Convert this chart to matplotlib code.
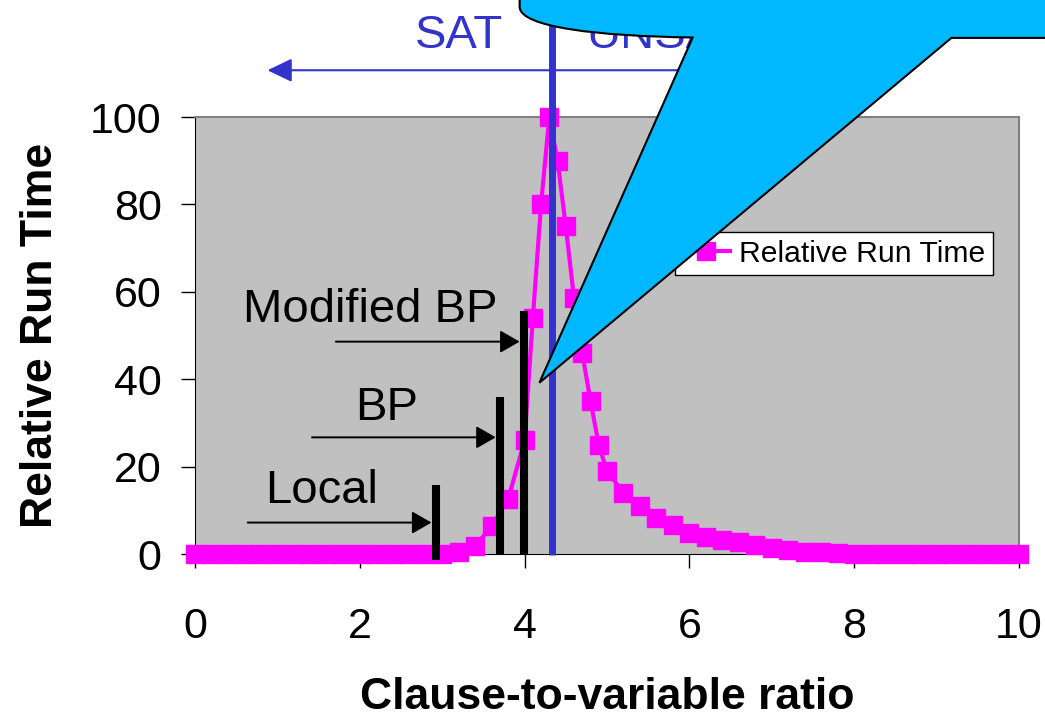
import matplotlib
matplotlib.use("Agg")
import matplotlib.pyplot as plt
from matplotlib.path import Path
from matplotlib.patches import PathPatch

plt.rcParams['font.family'] = ['Liberation Sans', 'DejaVu Sans']

# clause-to-variable ratio (denser sampling around the transition)
ratio = [0.0, 0.2, 0.4, 0.6, 0.8, 1.0, 1.2, 1.4, 1.6, 1.8,
         2.0, 2.2, 2.4, 2.6, 2.8, 3.0, 3.2, 3.4, 3.6, 3.8,
         4.0, 4.1, 4.2, 4.3, 4.4, 4.5, 4.6, 4.7, 4.8, 4.9, 5.0,
         5.2, 5.4, 5.6, 5.8, 6.0, 6.2, 6.4, 6.6, 6.8, 7.0,
         7.2, 7.4, 7.6, 7.8, 8.0, 8.2, 8.4, 8.6, 8.8, 9.0,
         9.2, 9.4, 9.6, 9.8, 10.0]
run_time = [0, 0, 0, 0, 0, 0, 0, 0, 0, 0,
            0, 0, 0, 0, 0, 0.1, 0.4, 1.8, 6.4, 12.5,
            26, 54, 80, 100, 90, 75, 58.5, 46, 35, 25, 19,
            14, 11, 8.2, 6.6, 4.9, 4.0, 3.2, 2.7, 2.1, 1.4,
            0.9, 0.5, 0.4, 0.2, 0, 0, 0, 0, 0, 0,
            0, 0, 0, 0, 0]

# algorithm thresholds: (label, ratio, bar top, bar bottom, arrow start, arrow height)
algos = [
    ('Local', 2.92, 15.8, -1.4, 0.64, 7.2),
    ('BP', 3.70, 36.0, -0.3, 1.42, 26.7),
    ('Modified BP', 3.99, 55.7, -0.3, 1.71, 48.6),
]
label_pos = {'Local': (0.85, 11.6), 'BP': (1.94, 30.7), 'Modified BP': (0.58, 53.2)}
sat_threshold = 4.33

MAGENTA = '#FF00FF'
BLUE = '#3333CC'

fig = plt.figure(figsize=(10.45, 7.17), dpi=100)
ax = fig.add_axes([0.1866, 0.2273, 0.7885, 0.6095])
ax.set_facecolor('#C0C0C0')

ax.plot(ratio, run_time, color=MAGENTA, lw=3, marker='s', markersize=13,
        label='Relative Run Time', clip_on=False, zorder=3)

for name, xr, top, bottom, x_start, y_arrow in algos:
    ax.plot([xr, xr], [bottom, top], color='black', lw=5.8,
            solid_capstyle='butt', clip_on=False, zorder=4)
    ax.annotate('', xy=(xr - 0.05, y_arrow), xytext=(x_start, y_arrow),
                arrowprops=dict(arrowstyle='-|>,head_length=0.4,head_width=0.23',
                                mutation_scale=30, color='black', lw=1.4,
                                shrinkA=0, shrinkB=0), zorder=4)
    ax.text(*label_pos[name], name, fontsize=34, ha='left', va='baseline')

# SAT / UNSAT boundary
ax.plot([sat_threshold, sat_threshold], [-0.3, 130], color=BLUE, lw=5,
        solid_capstyle='butt', clip_on=False, zorder=5)
ax.annotate('', xy=(0.88, 110.7), xytext=(6.0, 110.7), annotation_clip=False,
            arrowprops=dict(arrowstyle='-|>,head_length=0.5,head_width=0.24',
                            mutation_scale=30, color=BLUE, lw=1.5,
                            shrinkA=0, shrinkB=0))
ax.text(3.21, 115.9, 'SAT', fontsize=34, color=BLUE, ha='center', va='baseline')
ax.text(4.75, 115.9, 'UNSAT', fontsize=34, color=BLUE, ha='left', va='baseline')

ax.set_xlim(0, 10)
ax.set_ylim(0, 100)
ax.set_xticks([0, 2, 4, 6, 8, 10])
ax.set_yticks([0, 20, 40, 60, 80, 100])
ax.tick_params(axis='both', direction='out', length=10, width=1, labelsize=31)
ax.tick_params(axis='x', pad=28)
ax.tick_params(axis='y', pad=14)
for side in ['top', 'right']:
    ax.spines[side].set_color('#808080')
    ax.spines[side].set_linewidth(1.5)

ax.set_xlabel('Clause-to-variable ratio', fontsize=32, fontweight='bold', va='center')
ax.xaxis.set_label_coords(0.5, -0.328)
ax.set_ylabel('Relative Run Time', fontsize=32, fontweight='bold', va='center')
ax.yaxis.set_label_coords(-0.187, 0.5)

leg = ax.legend(loc='upper left', bbox_to_anchor=(0.582, 0.736), borderaxespad=0,
                fontsize=21.7, fancybox=False, framealpha=1, edgecolor='black',
                handlelength=1.6, handletextpad=0.3, borderpad=0.25)
leg.get_frame().set_linewidth(1)

# speech bubble callout covering the upper right
verts = [(3.94, 130.0), (3.94, 125.1),
         (3.96, 120.5), (4.9, 118.5), (6.04, 118.2),
         (4.18, 39.2), (9.18, 118.1), (10.6, 118.1), (10.6, 130.0), (3.94, 130.0)]
codes = [Path.MOVETO, Path.LINETO,
         Path.CURVE4, Path.CURVE4, Path.CURVE4,
         Path.LINETO, Path.LINETO, Path.LINETO, Path.LINETO, Path.CLOSEPOLY]
bubble = PathPatch(Path(verts, codes), facecolor='#00B8FF', edgecolor='black',
                   lw=1.5, clip_on=False, zorder=10)
ax.add_patch(bubble)

fig.savefig('out.png', dpi=100)
